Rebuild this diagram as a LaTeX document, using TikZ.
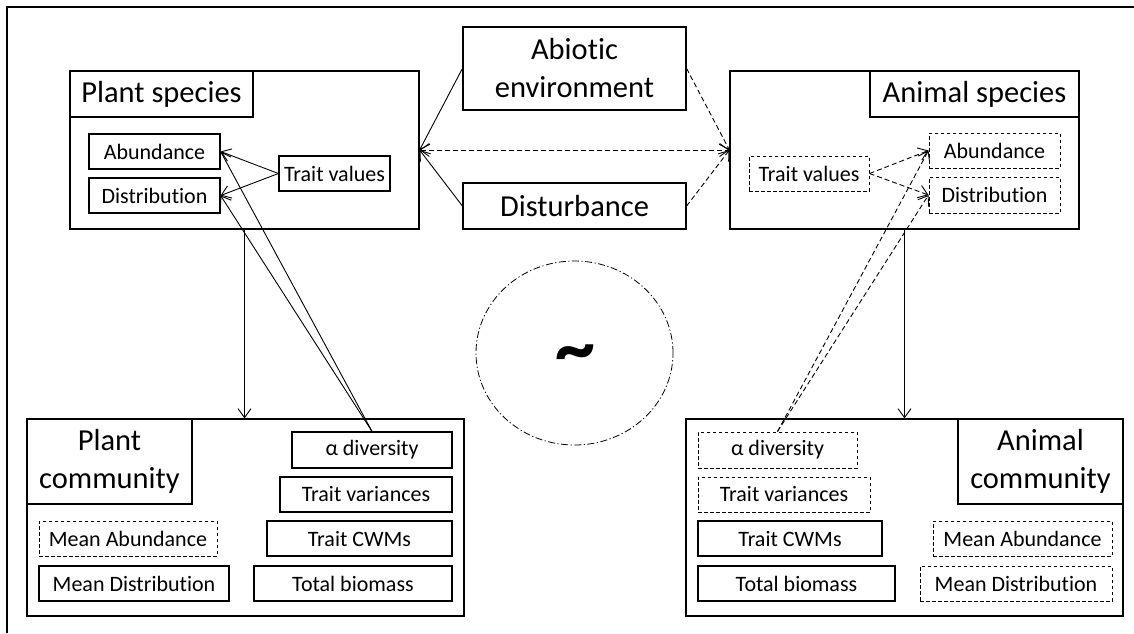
\documentclass[tikz,border=0pt]{standalone}
\usepackage{fontspec}
\setmainfont{Carlito}[Ligatures={NoCommon,NoContextual}]
\usetikzlibrary{arrows.meta,shapes.geometric}
\tikzset{
  box/.style={draw=black, line width=1.2pt, inner sep=0pt, align=center, fill=white},
  dbox/.style={box, dash pattern=on 3.5pt off 2.5pt, line width=1pt},
  big/.style={font=\fontsize{30.5}{38}\selectfont},
  small/.style={font=\fontsize{22}{26}\selectfont},
  barb/.tip={Straight Barb[length=9pt,width=13pt]},
  arr/.style={line width=0.9pt, -barb},
  darr/.style={arr, dash pattern=on 5pt off 3pt},
}
\begin{document}
\begin{tikzpicture}[x=1pt,y=-1pt]
\useasboundingbox (0,0) rectangle (1134,633);
% outer frame (top and left edges)
\coordinate (ftl) at (7,7);
\coordinate (ftr) at (1134,7);
\coordinate (fbl) at (7,633);
\draw[line width=1.2pt] (fbl) -- (ftl) -- (ftr);

% Plant species
\node[box, minimum width=349pt, minimum height=158pt] (plantsp) at (244.5,150) {};
\node[box, big, minimum width=183pt, minimum height=46pt] (plantT) at (161.5,94) {Plant species};
\node[box, small, minimum width=131pt, minimum height=35pt] (pAb) at (154.5,151.5) {Abundance};
\node[box, small, minimum width=131pt, minimum height=35pt] (pDi) at (154.5,195.5) {Distribution};
\node[box, small, minimum width=111pt, minimum height=35pt] (pTV) at (334.5,173.5) {Trait values};

% Environment
\node[box, big, minimum width=223pt, minimum height=83pt] (abio) at (574.5,68.5) {Abiotic\\environment};
\node[box, big, minimum width=223pt, minimum height=46pt] (dist) at (574.5,206) {Disturbance};

% Animal species
\node[box, minimum width=349pt, minimum height=158pt] (animsp) at (904.5,150) {};
\node[box, big, minimum width=209pt, minimum height=46pt] (animT) at (974.5,94) {Animal species};
\node[dbox, small, minimum width=120pt, minimum height=35pt] (aTV) at (809,173.5) {Trait values};
\node[dbox, small, minimum width=131pt, minimum height=35pt] (aAb) at (994.5,150.5) {Abundance};
\node[dbox, small, minimum width=131pt, minimum height=36pt] (aDi) at (994.5,195) {Distribution};

% Plant community
\node[box, minimum width=437pt, minimum height=197pt] (plantc) at (245.5,517.5) {};
\node[box, big, minimum width=165pt, minimum height=85pt] (plantcT) at (109.5,461.5) {Plant\\community};
\node[box, small, minimum width=160pt, minimum height=36pt] (pAlpha) at (372,450) {α diversity};
\node[box, small, minimum width=172pt, minimum height=35pt] (pTVar) at (366,494.5) {Trait variances};
\node[box, small, minimum width=185pt, minimum height=35pt] (pCWM) at (359.5,538.5) {Trait CWMs};
\node[box, small, minimum width=198pt, minimum height=35pt] (pTB) at (353,583.5) {Total biomass};
\node[dbox, small, minimum width=178pt, minimum height=35pt] (pMA) at (128,538.5) {Mean Abundance};
\node[box, small, minimum width=190pt, minimum height=35pt] (pMD) at (134,583.5) {Mean Distribution};

% Animal community
\node[box, minimum width=437pt, minimum height=197pt] (animc) at (904.5,517.5) {};
\node[box, big, minimum width=165pt, minimum height=85pt] (animcT) at (1040.5,461.5) {Animal\\community};
\node[dbox, small, minimum width=159pt, minimum height=36pt] (aAlpha) at (777.5,450) {α diversity};
\node[dbox, small, minimum width=172pt, minimum height=35pt] (aTVar) at (784,494.5) {Trait variances};
\node[box, small, minimum width=184pt, minimum height=35pt] (aCWM) at (790,538.5) {Trait CWMs};
\node[box, small, minimum width=197pt, minimum height=35pt] (aTB) at (796.5,583.5) {Total biomass};
\node[dbox, small, minimum width=179pt, minimum height=35pt] (aMA) at (1022.5,538.5) {Mean Abundance};
\node[dbox, small, minimum width=192pt, minimum height=35pt] (aMD) at (1016,583.5) {Mean Distribution};

% Central circle
\node[draw, line width=0.8pt, dash pattern=on 7pt off 2.5pt on 1.2pt off 2.5pt, ellipse, minimum width=197pt, minimum height=184pt, inner sep=0pt] (circ) at (574.5,353) {};
\node[font=\fontsize{80}{80}\selectfont\bfseries, inner sep=0pt] (tilde) at (575,360) {\textasciitilde};

% connectors
\draw[arr] (abio.west) -- (plantsp.east);
\draw[arr] (dist.west) -- (plantsp.east);
\draw[darr, barb-barb] (plantsp.east) -- (animsp.west);
\draw[darr] (abio.east) -- (animsp.west);
\draw[darr] (dist.east) -- (animsp.west);

\draw[arr] (pTV.west) -- (pAb.east);
\draw[arr] (pTV.west) -- (pDi.east);
\draw[arr] (pAlpha.north) -- (pAb.east);
\draw[arr] (pAlpha.north) -- (pDi.east);

\draw[darr] (aTV.east) -- (aAb.west);
\draw[darr] (aTV.east) -- (aDi.west);
\draw[darr] (aAlpha.north) -- (aAb.west);
\draw[darr] (aAlpha.north) -- (aDi.west);

\draw[arr] (plantsp.south) -- (plantsp.south |- plantc.north);
\draw[arr] (animsp.south) -- (animsp.south |- animc.north);
\end{tikzpicture}
\end{document}
